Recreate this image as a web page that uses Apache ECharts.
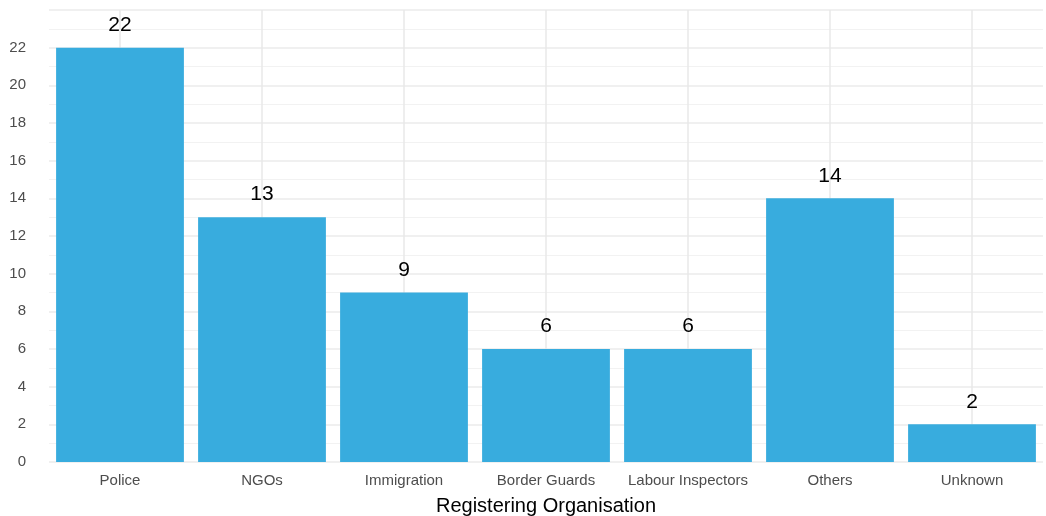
<!DOCTYPE html>
<html>
<head>
<meta charset="utf-8">
<script src="https://cdn.jsdelivr.net/npm/echarts@6/dist/echarts.min.js"></script>
<style>
  html, body { margin: 0; padding: 0; background: #fff; }
  #chart { width: 1046px; height: 516px; }
</style>
</head>
<body>
<div id="chart"></div>
<script>
// 数据
const categories = ['Police', 'NGOs', 'Immigration', 'Border Guards', 'Labour Inspectors', 'Others', 'Unknown'];
const counts = [22, 13, 9, 6, 6, 14, 2];
const yTicks = [0, 2, 4, 6, 8, 10, 12, 14, 16, 18, 20, 22];

const font = '"Liberation Sans", Arial, sans-serif';

const option = {
  animation: false,
  backgroundColor: '#ffffff',
  grid: {
    left: 49,
    right: 3,
    top: 10,
    bottom: 54,
    containLabel: false,
    outerBoundsMode: 'none'
  },
  xAxis: {
    type: 'category',
    data: categories,
    name: 'Registering Organisation',
    nameLocation: 'middle',
    nameGap: 34,
    nameTextStyle: { color: '#000', fontSize: 20, fontFamily: font },
    axisLine: { show: false },
    axisTick: { show: false },
    axisLabel: { color: '#4d4d4d', fontSize: 15, fontFamily: font, margin: 11, interval: 0 },
    // 竖向网格线对齐类目中心
    splitLine: { show: true, alignWithLabel: true, lineStyle: { color: '#e8e8e8', width: 1.5 } }
  },
  yAxis: {
    type: 'value',
    min: 0,
    max: 24,
    interval: 2,
    axisLine: { show: false },
    axisTick: { show: false },
    axisLabel: {
      color: '#4d4d4d',
      fontSize: 15,
      fontFamily: font,
      margin: 23,
      // 只显示 0-22 的刻度
      formatter: v => (yTicks.indexOf(v) >= 0 ? String(v) : '')
    },
    splitLine: { lineStyle: { color: '#ebebeb', width: 1.5 } },
    minorTick: { show: false, splitNumber: 2 },
    minorSplitLine: { show: true, lineStyle: { color: '#f2f2f2', width: 1 } }
  },
  series: [{
    type: 'bar',
    data: counts,
    barCategoryGap: '10%',
    itemStyle: { color: '#38acde' },
    label: {
      show: true,
      position: 'top',
      distance: 12,
      color: '#000',
      fontSize: 21,
      fontFamily: font
    }
  }]
};

const chart = echarts.init(document.getElementById('chart'));
chart.setOption(option);
</script>
</body>
</html>
